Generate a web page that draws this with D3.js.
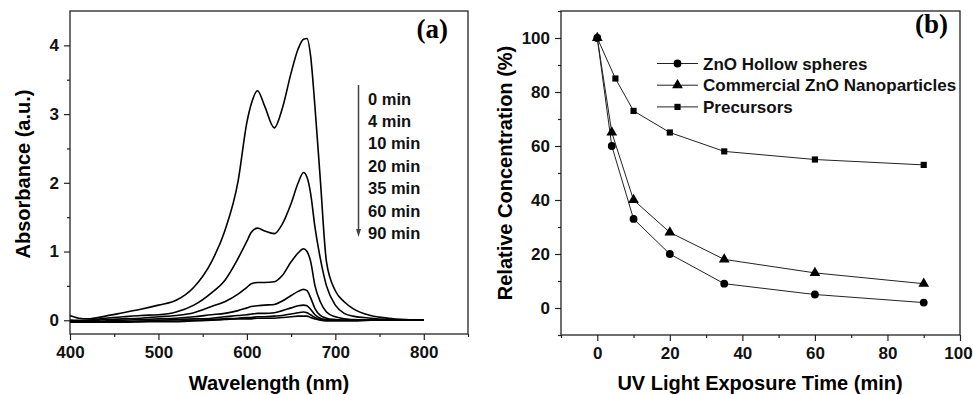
<!DOCTYPE html>
<html>
<head>
<meta charset="utf-8">
<script src="https://cdn.jsdelivr.net/npm/d3@7"></script>
<style>
  html, body { margin: 0; padding: 0; background: #fff; }
  svg { display: block; }
  .tick text { font-family: "Liberation Sans", Arial, sans-serif; font-weight: bold; }
</style>
</head>
<body>
<svg id="chart" width="973" height="395"></svg>
<script>
// ---- panel (a): absorbance spectra ----
const wavelengths = [400, 410, 420, 440, 460, 480, 500, 520, 540, 560, 575, 590, 600, 605, 612, 620, 631, 640, 650, 658, 664, 668, 672, 677, 683, 690, 700, 710, 720, 740, 760, 780, 800];
const abs0min  = [0.07, 0.03, 0.02, 0.06, 0.11, 0.16, 0.22, 0.29, 0.48, 0.85, 1.3, 2.02, 2.88, 3.15, 3.34, 3.12, 2.8, 3.08, 3.6, 3.95, 4.09, 4.1, 3.85, 3.1, 2.05, 0.85, 0.43, 0.27, 0.17, 0.07, 0.03, 0.01, 0.0];
const abs4min  = [0.0, 0.0, 0.0, 0.03, 0.05, 0.07, 0.08, 0.12, 0.22, 0.4, 0.58, 0.9, 1.15, 1.28, 1.34, 1.3, 1.26, 1.4, 1.7, 2.0, 2.15, 2.08, 1.85, 1.35, 0.9, 0.5, 0.22, 0.1, 0.06, 0.03, 0.01, 0.0, 0.0];
const abs10min = [0.0, -0.01, -0.01, 0.01, 0.02, 0.03, 0.05, 0.07, 0.11, 0.2, 0.27, 0.38, 0.48, 0.53, 0.55, 0.55, 0.56, 0.65, 0.85, 0.98, 1.04, 1.0, 0.86, 0.5, 0.27, 0.12, 0.05, 0.02, 0.01, 0.0, 0.0, 0.0, 0.0];
const abs20min = [-0.01, -0.02, -0.02, -0.01, 0.0, 0.01, 0.02, 0.03, 0.05, 0.08, 0.1, 0.14, 0.18, 0.2, 0.21, 0.22, 0.23, 0.28, 0.36, 0.42, 0.45, 0.43, 0.33, 0.17, 0.07, 0.03, 0.01, 0.0, 0.0, 0.0, 0.0, 0.0, 0.0];
const abs35min = [-0.02, -0.03, -0.03, -0.02, -0.02, -0.01, 0.0, 0.01, 0.02, 0.03, 0.05, 0.07, 0.08, 0.09, 0.1, 0.1, 0.11, 0.14, 0.18, 0.21, 0.22, 0.21, 0.16, 0.08, 0.03, 0.01, 0.0, 0.0, 0.0, 0.0, 0.0, 0.0, 0.0];
const abs60min = [-0.02, -0.03, -0.03, -0.03, -0.02, -0.02, -0.01, -0.01, 0.0, 0.01, 0.02, 0.03, 0.04, 0.04, 0.05, 0.05, 0.06, 0.07, 0.09, 0.11, 0.12, 0.11, 0.08, 0.04, 0.01, 0.0, 0.0, 0.0, 0.0, 0.0, 0.0, 0.0, 0.0];
const abs90min = [-0.03, -0.03, -0.03, -0.03, -0.03, -0.02, -0.02, -0.02, -0.01, 0.0, 0.01, 0.02, 0.02, 0.02, 0.03, 0.03, 0.03, 0.04, 0.05, 0.06, 0.06, 0.06, 0.04, 0.02, 0.0, -0.01, -0.01, -0.01, -0.01, 0.0, 0.0, 0.0, 0.0];
const spectra = [abs0min, abs4min, abs10min, abs20min, abs35min, abs60min, abs90min];
const timeLabels = ['0 min', '4 min', '10 min', '20 min', '35 min', '60 min', '90 min'];

const aXTicks = [400, 500, 600, 700, 800];
const aXMinor = [450, 550, 650, 750, 850];
const aYTicks = [0, 1, 2, 3, 4];
const aYMinor = [-0.5, 0.5, 1.5, 2.5, 3.5];

// ---- panel (b): relative concentration ----
const timesMin = [0, 4, 10, 20, 35, 60, 90];
const hollowSpheres = [100, 60, 33, 20, 9, 5, 2];
const commercialZnO = [100, 65, 40, 28, 18, 13, 9];
const precursorTimes = [0, 5, 10, 20, 35, 60, 90];
const precursors = [100, 85, 73, 65, 58, 55, 53];
const seriesNames = ['ZnO Hollow spheres', 'Commercial ZnO Nanoparticles', 'Precursors'];

const bXTicks = [0, 20, 40, 60, 80, 100];
const bXMinor = [-10, 10, 30, 50, 70, 90];
const bYTicks = [0, 20, 40, 60, 80, 100];
const bYMinor = [-10, 10, 30, 50, 70, 90, 110];

const FONT = '"Liberation Sans", Arial, sans-serif';
const svg = d3.select('#chart');

function drawAxes(x, y, xt, xm, yt, ym) {
    const [x0, x1] = x.range();
    const [y0, y1] = y.range();
    const g = svg.append('g');

    const styleAxis = sel => {
        sel.select('.domain').remove();
        sel.selectAll('line').attr('stroke', '#222').attr('stroke-width', 1.2);
        sel.selectAll('text').style('font-size', '17px').attr('fill', '#111');
    };

    const bottom = g.append('g').attr('transform', `translate(0,${y0})`)
        .call(d3.axisBottom(x).tickValues(xt).tickSize(6).tickPadding(6).tickFormat(d3.format('d')))
        .call(styleAxis);
    // keep the last label inside the page
    bottom.selectAll('.tick text')
        .filter(function() { return x(+d3.select(this.parentNode).datum()) + 15 > 973; })
        .attr('dx', -2);
    g.append('g').attr('transform', `translate(0,${y0})`)
        .call(d3.axisBottom(x).tickValues(xm).tickSize(3).tickFormat(''))
        .call(styleAxis);
    g.append('g').attr('transform', `translate(${x0},0)`)
        .call(d3.axisLeft(y).tickValues(yt).tickSize(6).tickPadding(5).tickFormat(d3.format('d')))
        .call(styleAxis);
    g.append('g').attr('transform', `translate(${x0},0)`)
        .call(d3.axisLeft(y).tickValues(ym).tickSize(3).tickFormat(''))
        .call(styleAxis);

    g.append('rect')
        .attr('x', x0).attr('y', y1)
        .attr('width', x1 - x0).attr('height', y0 - y1)
        .attr('fill', 'none').attr('stroke', '#222').attr('stroke-width', 1.3);
}

// ===== panel (a) =====
const xa = d3.scaleLinear().domain([400, 850]).range([70, 468]);
const ya = d3.scaleLinear().domain([-0.2, 4.5]).range([334, 11]);

drawAxes(xa, ya, aXTicks, aXMinor, aYTicks, aYMinor);

const spectrumLine = d3.line()
    .x((d, i) => xa(wavelengths[i]))
    .y(d => ya(d))
    .curve(d3.curveMonotoneX);

svg.append('g').selectAll('path')
    .data(spectra)
    .join('path')
    .attr('d', spectrumLine)
    .attr('fill', 'none')
    .attr('stroke', '#000')
    .attr('stroke-width', 1.6);

// time arrow + labels
svg.append('line')
    .attr('x1', 358.5).attr('x2', 358.5)
    .attr('y1', 85).attr('y2', 232)
    .attr('stroke', '#444').attr('stroke-width', 1.5);
svg.append('path')
    .attr('d', 'M356,229 L361,229 L358.5,237 Z')
    .attr('fill', '#444');

svg.append('g').selectAll('text')
    .data(timeLabels)
    .join('text')
    .attr('x', 368)
    .attr('y', (d, i) => 104.5 + i * 22.4)
    .style('font-family', FONT).style('font-weight', 'bold').style('font-size', '16.5px')
    .attr('fill', '#111')
    .text(d => d);

svg.append('text')
    .attr('x', 448).attr('y', 38)
    .attr('text-anchor', 'end')
    .style('font-family', '"Liberation Serif", "Times New Roman", serif')
    .style('font-weight', 'bold').style('font-size', '27px')
    .text('(a)');

svg.append('text')
    .attr('x', 269).attr('y', 390)
    .attr('text-anchor', 'middle')
    .style('font-family', FONT).style('font-weight', 'bold').style('font-size', '20px')
    .text('Wavelength (nm)');

svg.append('text')
    .attr('transform', 'translate(30,174) rotate(-90)')
    .attr('text-anchor', 'middle')
    .style('font-family', FONT).style('font-weight', 'bold').style('font-size', '20px')
    .text('Absorbance (a.u.)');

// ===== panel (b) =====
const xb = d3.scaleLinear().domain([-10, 100]).range([561, 960]);
const yb = d3.scaleLinear().domain([-10, 110]).range([335, 11]);

drawAxes(xb, yb, bXTicks, bXMinor, bYTicks, bYMinor);

const series = [
    { name: seriesNames[0], xs: timesMin, ys: hollowSpheres, symbol: d3.symbolCircle, size: 48 },
    { name: seriesNames[1], xs: timesMin, ys: commercialZnO, symbol: d3.symbolTriangle, size: 50 },
    { name: seriesNames[2], xs: precursorTimes, ys: precursors, symbol: d3.symbolSquare, size: 38 }
];

const seriesLine = d3.line().x(d => xb(d[0])).y(d => yb(d[1]));

series.forEach(s => {
    const pts = s.xs.map((t, i) => [t, s.ys[i]]);
    svg.append('path')
        .attr('d', seriesLine(pts))
        .attr('fill', 'none')
        .attr('stroke', '#222')
        .attr('stroke-width', 1);
    svg.append('g').selectAll('path')
        .data(pts)
        .join('path')
        .attr('transform', d => `translate(${xb(d[0])},${yb(d[1])})`)
        .attr('d', d3.symbol().type(s.symbol).size(s.size))
        .attr('fill', '#000');
});

// legend (b)
const legend = svg.append('g');
series.forEach((s, i) => {
    const ly = 63.5 + i * 21.7;
    legend.append('line')
        .attr('x1', 657).attr('x2', 698)
        .attr('y1', ly).attr('y2', ly)
        .attr('stroke', '#222').attr('stroke-width', 1);
    legend.append('path')
        .attr('transform', `translate(677.5,${ly})`)
        .attr('d', d3.symbol().type(s.symbol).size(s.size))
        .attr('fill', '#000');
    legend.append('text')
        .attr('x', 703).attr('y', ly + 6)
        .style('font-family', FONT).style('font-weight', 'bold').style('font-size', '17px')
        .attr('fill', '#111')
        .text(s.name);
});

svg.append('text')
    .attr('x', 948).attr('y', 33)
    .attr('text-anchor', 'end')
    .style('font-family', '"Liberation Serif", "Times New Roman", serif')
    .style('font-weight', 'bold').style('font-size', '27px')
    .text('(b)');

svg.append('text')
    .attr('x', 760).attr('y', 390)
    .attr('text-anchor', 'middle')
    .style('font-family', FONT).style('font-weight', 'bold').style('font-size', '20px')
    .text('UV Light Exposure Time (min)');

svg.append('text')
    .attr('transform', 'translate(512,173) rotate(-90)')
    .attr('text-anchor', 'middle')
    .style('font-family', FONT).style('font-weight', 'bold').style('font-size', '20px')
    .text('Relative Concentration (%)');
</script>
</body>
</html>
